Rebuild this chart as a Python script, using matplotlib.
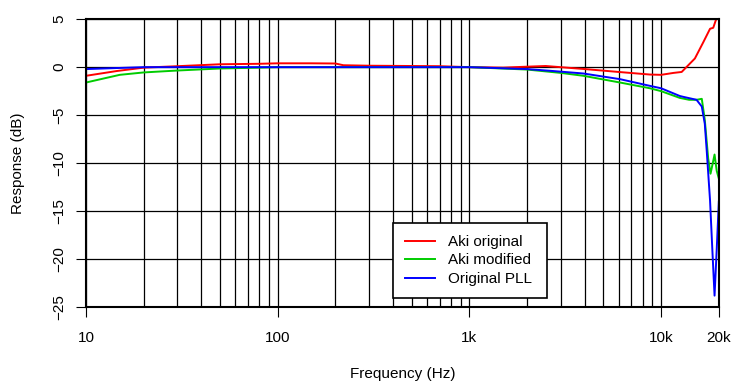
import matplotlib
matplotlib.use("Agg")
import matplotlib.pyplot as plt
from matplotlib.ticker import LogLocator, NullFormatter, FixedLocator, FixedFormatter

plt.rcParams['font.family'] = ['Liberation Sans', 'DejaVu Sans']

# Data
red_f = [10, 14.5, 20, 30, 50, 80, 100, 150, 200, 220, 300, 500, 700, 1000, 1500, 2000,
         2500, 4000, 6000, 8750, 10000, 11600, 12800, 15000, 16600, 18000, 18700, 19300, 20000]
red_db = [-0.9, -0.4, -0.05, 0.1, 0.3, 0.35, 0.4, 0.4, 0.38, 0.2, 0.15, 0.12, 0.1, 0.0, -0.05, 0.05,
          0.12, -0.2, -0.5, -0.77, -0.8, -0.6, -0.5, 0.9, 2.6, 4.0, 4.1, 4.9, 5.3]

green_f = [10, 15, 20, 30, 50, 80, 100, 200, 500, 1000, 2000, 3000, 3930, 6100, 8750, 10000,
           12500, 14000, 15300, 16300, 16900, 17600, 18100, 18600, 19000, 19500, 20000]
green_db = [-1.6, -0.8, -0.55, -0.35, -0.14, -0.05, 0, 0, 0, 0, -0.25, -0.6, -0.9, -1.6, -2.2, -2.5,
            -3.2, -3.4, -3.4, -3.3, -5.5, -9.5, -11.1, -10.0, -9.1, -10.8, -11.6]

blue_f = [10, 20, 50, 100, 1000, 2000, 2640, 3930, 6100, 8750, 10000, 12500, 13100, 15300,
          16300, 16900, 17300, 18000, 18500, 19000, 19500, 20000]
blue_db = [-0.2, 0, 0, 0, 0, -0.2, -0.38, -0.66, -1.25, -1.95, -2.2, -3.0, -3.1, -3.4,
           -4.1, -5.9, -8.75, -13.9, -19.0, -23.8, -19.0, -14.0]

series_names = ["Aki original", "Aki modified", "Original PLL"]
xtick_vals = [10, 100, 1000, 10000, 20000]
xtick_labels = ["10", "100", "1k", "10k", "20k"]
ytick_vals = [-25, -20, -15, -10, -5, 0, 5]

FS = 11

fig = plt.figure(figsize=(7.32, 3.83), dpi=100)
ax = fig.add_axes([0.1175, 0.198, 0.8645, 0.752])

ax.plot(red_f, red_db, color="#ff0000", lw=1.4, label=series_names[0])
ax.plot(green_f, green_db, color="#00cc00", lw=1.4, label=series_names[1])
ax.plot(blue_f, blue_db, color="#0000ff", lw=1.4, label=series_names[2])

ax.set_xscale('log')
ax.set_xlim(10, 20000)
ax.set_ylim(-25, 5)

ax.xaxis.set_major_locator(FixedLocator(xtick_vals))
ax.xaxis.set_major_formatter(FixedFormatter(xtick_labels))
ax.xaxis.set_minor_locator(LogLocator(base=10, subs=range(2, 10), numticks=20))
ax.xaxis.set_minor_formatter(NullFormatter())
ax.set_yticks(ytick_vals)
ax.set_yticklabels([str(v).replace('-', '\u2212') for v in ytick_vals], rotation=90, va='center')

ax.tick_params(axis='both', which='major', direction='out', length=7, width=0.8,
               labelsize=FS, color='black')
ax.tick_params(axis='x', which='major', pad=10)
ax.tick_params(axis='y', which='major', pad=7)
ax.tick_params(axis='x', which='minor', length=0)

ax.grid(True, which='both', axis='x', color='black', lw=0.9)
ax.grid(True, which='major', axis='y', color='black', lw=0.9)
ax.set_axisbelow(True)

for s in ax.spines.values():
    s.set_linewidth(1.5)
    s.set_color('black')

ax.set_xlabel("Frequency (Hz)", fontsize=FS, va='center')
ax.xaxis.set_label_coords(0.5, -0.233)
ax.set_ylabel("Response (dB)", fontsize=FS, va='center')
ax.yaxis.set_label_coords(-0.107, 0.5)

leg = ax.legend(loc='lower left', bbox_to_anchor=(0.485, 0.031, 0.243, 0.268), mode='expand',
                fontsize=FS, frameon=True, fancybox=False, edgecolor='black',
                framealpha=1, borderaxespad=0, handlelength=1.95, labelspacing=0.3,
                borderpad=0.8, handletextpad=0.85)
leg.get_frame().set_linewidth(1.2)

fig.savefig("out.png", dpi=100)
